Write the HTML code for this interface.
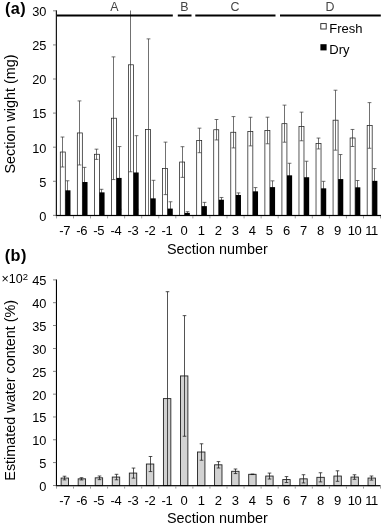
<!DOCTYPE html>
<html><head><meta charset="utf-8"><title>Figure</title>
<style>html,body{margin:0;padding:0;background:#fff;}svg{display:block;}text{font-family:'Liberation Sans', Arial, Helvetica, sans-serif;fill:#000;}</style></head><body>
<svg width="383" height="526" viewBox="0 0 383 526">
<rect width="383" height="526" fill="#fff"/>
<rect x="60.28" y="152.02" width="5.00" height="63.38" fill="#fff" stroke="#222" stroke-width="0.75"/>
<path d="M67.50 180.78V199.86M65.60 180.78H69.40M65.60 199.86H69.40" stroke="#333" stroke-width="0.70" fill="none"/>
<rect x="65.33" y="190.32" width="5.15" height="25.08" fill="#000"/>
<path d="M62.50 137.03V167.01M60.60 137.03H64.40M60.60 167.01H64.40" stroke="#333" stroke-width="0.70" fill="none"/>
<rect x="77.33" y="132.94" width="5.00" height="82.46" fill="#fff" stroke="#222" stroke-width="0.75"/>
<path d="M84.50 167.35V196.66M82.60 167.35H86.40M82.60 196.66H86.40" stroke="#333" stroke-width="0.70" fill="none"/>
<rect x="82.38" y="182.01" width="5.15" height="33.39" fill="#000"/>
<path d="M79.50 100.91V164.97M77.60 100.91H81.40M77.60 164.97H81.40" stroke="#333" stroke-width="0.70" fill="none"/>
<rect x="94.38" y="154.27" width="5.00" height="61.13" fill="#fff" stroke="#222" stroke-width="0.75"/>
<path d="M101.50 189.30V195.43M99.60 189.30H103.40M99.60 195.43H103.40" stroke="#333" stroke-width="0.70" fill="none"/>
<rect x="99.42" y="192.37" width="5.15" height="23.03" fill="#000"/>
<path d="M96.50 149.16V159.38M94.60 149.16H98.40M94.60 159.38H98.40" stroke="#333" stroke-width="0.70" fill="none"/>
<rect x="111.43" y="118.22" width="5.00" height="97.18" fill="#fff" stroke="#222" stroke-width="0.75"/>
<path d="M119.50 146.57V209.27M117.60 146.57H121.40M117.60 209.27H121.40" stroke="#333" stroke-width="0.70" fill="none"/>
<rect x="116.48" y="177.92" width="5.15" height="37.48" fill="#000"/>
<path d="M113.50 56.88V179.55M111.60 56.88H115.40M111.60 179.55H115.40" stroke="#333" stroke-width="0.70" fill="none"/>
<rect x="128.47" y="64.79" width="5.00" height="150.61" fill="#fff" stroke="#222" stroke-width="0.75"/>
<path d="M136.50 135.66V209.27M134.60 135.66H138.40M134.60 209.27H138.40" stroke="#333" stroke-width="0.70" fill="none"/>
<rect x="133.53" y="172.47" width="5.15" height="42.93" fill="#000"/>
<path d="M130.50 10.50V171.78M128.60 171.78H132.40" stroke="#333" stroke-width="0.70" fill="none"/>
<rect x="145.53" y="129.53" width="5.00" height="85.87" fill="#fff" stroke="#222" stroke-width="0.75"/>
<path d="M153.50 180.30V215.40M151.60 180.30H155.40" stroke="#333" stroke-width="0.70" fill="none"/>
<rect x="150.58" y="198.36" width="5.15" height="17.04" fill="#000"/>
<path d="M148.50 38.89V215.40M146.60 38.89H150.40" stroke="#333" stroke-width="0.70" fill="none"/>
<rect x="162.58" y="168.38" width="5.00" height="47.02" fill="#fff" stroke="#222" stroke-width="0.75"/>
<path d="M170.50 201.77V215.40M168.60 201.77H172.40M168.60 215.40H172.40" stroke="#333" stroke-width="0.70" fill="none"/>
<rect x="167.63" y="208.59" width="5.15" height="6.82" fill="#000"/>
<path d="M165.50 142.14V194.61M163.60 142.14H167.40M163.60 194.61H167.40" stroke="#333" stroke-width="0.70" fill="none"/>
<rect x="179.63" y="162.04" width="5.00" height="53.36" fill="#fff" stroke="#222" stroke-width="0.75"/>
<path d="M187.50 211.65V214.11M185.60 211.65H189.40M185.60 214.11H189.40" stroke="#333" stroke-width="0.70" fill="none"/>
<rect x="184.68" y="212.88" width="5.15" height="2.52" fill="#000"/>
<path d="M182.50 146.70V177.37M180.60 146.70H184.40M180.60 177.37H184.40" stroke="#333" stroke-width="0.70" fill="none"/>
<rect x="196.68" y="140.44" width="5.00" height="74.97" fill="#fff" stroke="#222" stroke-width="0.75"/>
<path d="M204.50 202.38V209.88M202.60 202.38H206.40M202.60 209.88H206.40" stroke="#333" stroke-width="0.70" fill="none"/>
<rect x="201.73" y="206.13" width="5.15" height="9.27" fill="#000"/>
<path d="M199.50 128.17V152.70M197.60 128.17H201.40M197.60 152.70H201.40" stroke="#333" stroke-width="0.70" fill="none"/>
<rect x="213.73" y="129.74" width="5.00" height="85.66" fill="#fff" stroke="#222" stroke-width="0.75"/>
<path d="M221.50 197.48V201.97M219.60 197.48H223.40M219.60 201.97H223.40" stroke="#333" stroke-width="0.70" fill="none"/>
<rect x="218.78" y="199.73" width="5.15" height="15.67" fill="#000"/>
<path d="M216.50 119.51V139.96M214.60 119.51H218.40M214.60 139.96H218.40" stroke="#333" stroke-width="0.70" fill="none"/>
<rect x="230.78" y="132.26" width="5.00" height="83.14" fill="#fff" stroke="#222" stroke-width="0.75"/>
<path d="M238.50 192.91V197.00M236.60 192.91H240.40M236.60 197.00H240.40" stroke="#333" stroke-width="0.70" fill="none"/>
<rect x="235.83" y="194.96" width="5.15" height="20.45" fill="#000"/>
<path d="M233.50 116.58V147.93M231.60 116.58H235.40M231.60 147.93H235.40" stroke="#333" stroke-width="0.70" fill="none"/>
<rect x="247.83" y="131.58" width="5.00" height="83.82" fill="#fff" stroke="#222" stroke-width="0.75"/>
<path d="M255.50 187.59V195.09M253.60 187.59H257.40M253.60 195.09H257.40" stroke="#333" stroke-width="0.70" fill="none"/>
<rect x="252.88" y="191.34" width="5.15" height="24.06" fill="#000"/>
<path d="M250.50 117.26V145.89M248.60 117.26H252.40M248.60 145.89H252.40" stroke="#333" stroke-width="0.70" fill="none"/>
<rect x="264.88" y="130.49" width="5.00" height="84.91" fill="#fff" stroke="#222" stroke-width="0.75"/>
<path d="M272.50 180.85V193.39M270.60 180.85H274.40M270.60 193.39H274.40" stroke="#333" stroke-width="0.70" fill="none"/>
<rect x="269.93" y="187.12" width="5.15" height="28.28" fill="#000"/>
<path d="M267.50 117.20V143.77M265.60 117.20H269.40M265.60 143.77H269.40" stroke="#333" stroke-width="0.70" fill="none"/>
<rect x="281.92" y="123.67" width="5.00" height="91.73" fill="#fff" stroke="#222" stroke-width="0.75"/>
<path d="M289.50 163.27V187.39M287.60 163.27H291.40M287.60 187.39H291.40" stroke="#333" stroke-width="0.70" fill="none"/>
<rect x="286.97" y="175.33" width="5.15" height="40.07" fill="#000"/>
<path d="M284.50 105.13V142.21M282.60 105.13H286.40M282.60 142.21H286.40" stroke="#333" stroke-width="0.70" fill="none"/>
<rect x="298.98" y="126.46" width="5.00" height="88.94" fill="#fff" stroke="#222" stroke-width="0.75"/>
<path d="M306.50 161.22V193.25M304.60 161.22H308.40M304.60 193.25H308.40" stroke="#333" stroke-width="0.70" fill="none"/>
<rect x="304.03" y="177.24" width="5.15" height="38.16" fill="#000"/>
<path d="M301.50 112.15V140.78M299.60 112.15H303.40M299.60 140.78H303.40" stroke="#333" stroke-width="0.70" fill="none"/>
<rect x="316.02" y="143.50" width="5.00" height="71.90" fill="#fff" stroke="#222" stroke-width="0.75"/>
<path d="M323.50 181.32V195.36M321.60 181.32H325.40M321.60 195.36H325.40" stroke="#333" stroke-width="0.70" fill="none"/>
<rect x="321.07" y="188.34" width="5.15" height="27.06" fill="#000"/>
<path d="M318.50 138.05V148.95M316.60 138.05H320.40M316.60 148.95H320.40" stroke="#333" stroke-width="0.70" fill="none"/>
<rect x="333.07" y="120.19" width="5.00" height="95.21" fill="#fff" stroke="#222" stroke-width="0.75"/>
<path d="M340.50 154.54V203.61M338.60 154.54H342.40M338.60 203.61H342.40" stroke="#333" stroke-width="0.70" fill="none"/>
<rect x="338.12" y="179.08" width="5.15" height="36.32" fill="#000"/>
<path d="M335.50 90.21V150.18M333.60 90.21H337.40M333.60 150.18H337.40" stroke="#333" stroke-width="0.70" fill="none"/>
<rect x="350.12" y="137.98" width="5.00" height="77.42" fill="#fff" stroke="#222" stroke-width="0.75"/>
<path d="M357.50 180.51V194.14M355.60 180.51H359.40M355.60 194.14H359.40" stroke="#333" stroke-width="0.70" fill="none"/>
<rect x="355.18" y="187.32" width="5.15" height="28.08" fill="#000"/>
<path d="M352.50 129.46V146.50M350.60 129.46H354.40M350.60 146.50H354.40" stroke="#333" stroke-width="0.70" fill="none"/>
<rect x="367.18" y="125.44" width="5.00" height="89.96" fill="#fff" stroke="#222" stroke-width="0.75"/>
<path d="M374.50 168.58V193.11M372.60 168.58H376.40M372.60 193.11H376.40" stroke="#333" stroke-width="0.70" fill="none"/>
<rect x="372.23" y="180.85" width="5.15" height="34.55" fill="#000"/>
<path d="M369.50 102.61V148.27M367.60 102.61H371.40M367.60 148.27H371.40" stroke="#333" stroke-width="0.70" fill="none"/>
<rect x="55.8" y="10.3" width="1.1" height="205.8" fill="#000"/>
<rect x="55.8" y="214.9" width="325.2" height="1.2" fill="#000"/>
<rect x="53" y="214.90" width="3.2" height="0.8" fill="#666"/>
<text x="46.4" y="220.70" font-size="12.8" text-anchor="end">0</text>
<rect x="53" y="180.82" width="3.2" height="0.8" fill="#666"/>
<text x="46.4" y="186.62" font-size="12.8" text-anchor="end">5</text>
<rect x="53" y="146.75" width="3.2" height="0.8" fill="#666"/>
<text x="46.4" y="152.55" font-size="12.8" text-anchor="end">10</text>
<rect x="53" y="112.67" width="3.2" height="0.8" fill="#666"/>
<text x="46.4" y="118.47" font-size="12.8" text-anchor="end">15</text>
<rect x="53" y="78.60" width="3.2" height="0.8" fill="#666"/>
<text x="46.4" y="84.40" font-size="12.8" text-anchor="end">20</text>
<rect x="53" y="44.53" width="3.2" height="0.8" fill="#666"/>
<text x="46.4" y="50.33" font-size="12.8" text-anchor="end">25</text>
<rect x="53" y="10.45" width="3.2" height="0.8" fill="#666"/>
<text x="46.4" y="16.25" font-size="12.8" text-anchor="end">30</text>
<rect x="56.10" y="216" width="0.8" height="2.4" fill="#888"/>
<rect x="73.15" y="216" width="0.8" height="2.4" fill="#888"/>
<rect x="90.20" y="216" width="0.8" height="2.4" fill="#888"/>
<rect x="107.25" y="216" width="0.8" height="2.4" fill="#888"/>
<rect x="124.30" y="216" width="0.8" height="2.4" fill="#888"/>
<rect x="141.35" y="216" width="0.8" height="2.4" fill="#888"/>
<rect x="158.40" y="216" width="0.8" height="2.4" fill="#888"/>
<rect x="175.45" y="216" width="0.8" height="2.4" fill="#888"/>
<rect x="192.50" y="216" width="0.8" height="2.4" fill="#888"/>
<rect x="209.55" y="216" width="0.8" height="2.4" fill="#888"/>
<rect x="226.60" y="216" width="0.8" height="2.4" fill="#888"/>
<rect x="243.65" y="216" width="0.8" height="2.4" fill="#888"/>
<rect x="260.70" y="216" width="0.8" height="2.4" fill="#888"/>
<rect x="277.75" y="216" width="0.8" height="2.4" fill="#888"/>
<rect x="294.80" y="216" width="0.8" height="2.4" fill="#888"/>
<rect x="311.85" y="216" width="0.8" height="2.4" fill="#888"/>
<rect x="328.90" y="216" width="0.8" height="2.4" fill="#888"/>
<rect x="345.95" y="216" width="0.8" height="2.4" fill="#888"/>
<rect x="363.00" y="216" width="0.8" height="2.4" fill="#888"/>
<rect x="380.05" y="216" width="0.8" height="2.4" fill="#888"/>
<text x="64.73" y="235.3" font-size="13" text-anchor="middle" letter-spacing="-0.3">-7</text>
<text x="81.78" y="235.3" font-size="13" text-anchor="middle" letter-spacing="-0.3">-6</text>
<text x="98.83" y="235.3" font-size="13" text-anchor="middle" letter-spacing="-0.3">-5</text>
<text x="115.88" y="235.3" font-size="13" text-anchor="middle" letter-spacing="-0.3">-4</text>
<text x="132.92" y="235.3" font-size="13" text-anchor="middle" letter-spacing="-0.3">-3</text>
<text x="149.97" y="235.3" font-size="13" text-anchor="middle" letter-spacing="-0.3">-2</text>
<text x="167.03" y="235.3" font-size="13" text-anchor="middle" letter-spacing="-0.3">-1</text>
<text x="184.08" y="235.3" font-size="13" text-anchor="middle" letter-spacing="-0.3">0</text>
<text x="201.12" y="235.3" font-size="13" text-anchor="middle" letter-spacing="-0.3">1</text>
<text x="218.18" y="235.3" font-size="13" text-anchor="middle" letter-spacing="-0.3">2</text>
<text x="235.22" y="235.3" font-size="13" text-anchor="middle" letter-spacing="-0.3">3</text>
<text x="252.28" y="235.3" font-size="13" text-anchor="middle" letter-spacing="-0.3">4</text>
<text x="269.32" y="235.3" font-size="13" text-anchor="middle" letter-spacing="-0.3">5</text>
<text x="286.37" y="235.3" font-size="13" text-anchor="middle" letter-spacing="-0.3">6</text>
<text x="303.43" y="235.3" font-size="13" text-anchor="middle" letter-spacing="-0.3">7</text>
<text x="320.47" y="235.3" font-size="13" text-anchor="middle" letter-spacing="-0.3">8</text>
<text x="337.52" y="235.3" font-size="13" text-anchor="middle" letter-spacing="-0.3">9</text>
<text x="354.57" y="235.3" font-size="13" text-anchor="middle" letter-spacing="-0.3">10</text>
<text x="371.62" y="235.3" font-size="13" text-anchor="middle" letter-spacing="-0.3">11</text>
<rect x="57.00" y="14.5" width="115.80" height="2" fill="#000"/>
<text x="114.50" y="11.2" font-size="12.4" text-anchor="middle" style="fill:#444">A</text>
<rect x="177.80" y="14.5" width="13.70" height="2" fill="#000"/>
<text x="184.30" y="11.2" font-size="12.4" text-anchor="middle" style="fill:#444">B</text>
<rect x="195.30" y="14.5" width="80.20" height="2" fill="#000"/>
<text x="235.00" y="11.2" font-size="12.4" text-anchor="middle" style="fill:#444">C</text>
<rect x="280.00" y="14.5" width="100.80" height="2" fill="#000"/>
<text x="330.00" y="11.2" font-size="12.4" text-anchor="middle" style="fill:#444">D</text>
<rect x="320.8" y="23.6" width="5.4" height="5.4" fill="#fff" stroke="#222" stroke-width="0.9"/>
<text x="329.3" y="32.7" font-size="13">Fresh</text>
<rect x="320.4" y="44.2" width="6.2" height="6.2" fill="#000"/>
<text x="329.3" y="53.7" font-size="13">Dry</text>
<text x="5.0" y="13.9" font-size="16.3" font-weight="bold" letter-spacing="0.4">(a)</text>
<text transform="translate(15.3,114) rotate(-90)" font-size="14.4" text-anchor="middle">Section wight (mg)</text>
<text x="166.9" y="254.3" font-size="14.4">Section number</text>
<rect x="61.12" y="478.06" width="7.40" height="7.54" fill="#d2d2d2" stroke="#222" stroke-width="0.9"/>
<path d="M64.50 476.23V479.89M62.70 476.23H66.30M62.70 479.89H66.30" stroke="#1a1a1a" stroke-width="0.75" fill="none"/>
<rect x="78.17" y="478.84" width="7.40" height="6.76" fill="#d2d2d2" stroke="#222" stroke-width="0.9"/>
<path d="M81.50 477.70V479.98M79.70 477.70H83.30M79.70 479.98H83.30" stroke="#1a1a1a" stroke-width="0.75" fill="none"/>
<rect x="95.22" y="477.83" width="7.40" height="7.77" fill="#d2d2d2" stroke="#222" stroke-width="0.9"/>
<path d="M99.50 476.01V479.66M97.70 476.01H101.30M97.70 479.66H101.30" stroke="#1a1a1a" stroke-width="0.75" fill="none"/>
<rect x="112.28" y="477.06" width="7.40" height="8.54" fill="#d2d2d2" stroke="#222" stroke-width="0.9"/>
<path d="M116.50 474.31V479.80M114.70 474.31H118.30M114.70 479.80H118.30" stroke="#1a1a1a" stroke-width="0.75" fill="none"/>
<rect x="129.33" y="473.08" width="7.40" height="12.52" fill="#d2d2d2" stroke="#222" stroke-width="0.9"/>
<path d="M133.50 468.06V478.11M131.70 468.06H135.30M131.70 478.11H135.30" stroke="#1a1a1a" stroke-width="0.75" fill="none"/>
<rect x="146.38" y="464.03" width="7.40" height="21.57" fill="#d2d2d2" stroke="#222" stroke-width="0.9"/>
<path d="M150.50 456.50V471.57M148.70 456.50H152.30M148.70 471.57H152.30" stroke="#1a1a1a" stroke-width="0.75" fill="none"/>
<rect x="163.43" y="398.61" width="7.40" height="86.99" fill="#d2d2d2" stroke="#222" stroke-width="0.9"/>
<path d="M167.50 291.69V485.60M165.70 291.69H169.30" stroke="#1a1a1a" stroke-width="0.75" fill="none"/>
<rect x="180.48" y="375.94" width="7.40" height="109.66" fill="#d2d2d2" stroke="#222" stroke-width="0.9"/>
<path d="M184.50 315.63V436.25M182.70 315.63H186.30M182.70 436.25H186.30" stroke="#1a1a1a" stroke-width="0.75" fill="none"/>
<rect x="197.53" y="452.02" width="7.40" height="33.58" fill="#d2d2d2" stroke="#222" stroke-width="0.9"/>
<path d="M201.50 443.79V460.24M199.70 443.79H203.30M199.70 460.24H203.30" stroke="#1a1a1a" stroke-width="0.75" fill="none"/>
<rect x="214.58" y="464.81" width="7.40" height="20.79" fill="#d2d2d2" stroke="#222" stroke-width="0.9"/>
<path d="M218.50 461.61V468.01M216.70 461.61H220.30M216.70 468.01H220.30" stroke="#1a1a1a" stroke-width="0.75" fill="none"/>
<rect x="231.63" y="471.30" width="7.40" height="14.30" fill="#d2d2d2" stroke="#222" stroke-width="0.9"/>
<path d="M235.50 469.01V473.58M233.70 469.01H237.30M233.70 473.58H237.30" stroke="#1a1a1a" stroke-width="0.75" fill="none"/>
<rect x="248.68" y="474.31" width="7.40" height="11.29" fill="#d2d2d2" stroke="#222" stroke-width="0.9"/>
<path d="M252.50 474.09V474.54M250.70 474.09H254.30M250.70 474.54H254.30" stroke="#1a1a1a" stroke-width="0.75" fill="none"/>
<rect x="265.73" y="476.05" width="7.40" height="9.55" fill="#d2d2d2" stroke="#222" stroke-width="0.9"/>
<path d="M269.50 473.08V479.02M267.70 473.08H271.30M267.70 479.02H271.30" stroke="#1a1a1a" stroke-width="0.75" fill="none"/>
<rect x="282.77" y="479.57" width="7.40" height="6.03" fill="#d2d2d2" stroke="#222" stroke-width="0.9"/>
<path d="M286.50 476.60V482.54M284.70 476.60H288.30M284.70 482.54H288.30" stroke="#1a1a1a" stroke-width="0.75" fill="none"/>
<rect x="299.83" y="478.84" width="7.40" height="6.76" fill="#d2d2d2" stroke="#222" stroke-width="0.9"/>
<path d="M303.50 474.73V482.95M301.70 474.73H305.30M301.70 482.95H305.30" stroke="#1a1a1a" stroke-width="0.75" fill="none"/>
<rect x="316.88" y="477.33" width="7.40" height="8.27" fill="#d2d2d2" stroke="#222" stroke-width="0.9"/>
<path d="M320.50 472.76V481.90M318.70 472.76H322.30M318.70 481.90H322.30" stroke="#1a1a1a" stroke-width="0.75" fill="none"/>
<rect x="333.93" y="476.05" width="7.40" height="9.55" fill="#d2d2d2" stroke="#222" stroke-width="0.9"/>
<path d="M337.50 470.80V481.31M335.70 470.80H339.30M335.70 481.31H339.30" stroke="#1a1a1a" stroke-width="0.75" fill="none"/>
<rect x="350.98" y="477.06" width="7.40" height="8.54" fill="#d2d2d2" stroke="#222" stroke-width="0.9"/>
<path d="M354.50 474.77V479.34M352.70 474.77H356.30M352.70 479.34H356.30" stroke="#1a1a1a" stroke-width="0.75" fill="none"/>
<rect x="368.03" y="478.06" width="7.40" height="7.54" fill="#d2d2d2" stroke="#222" stroke-width="0.9"/>
<path d="M371.50 476.01V480.12M369.70 476.01H373.30M369.70 480.12H373.30" stroke="#1a1a1a" stroke-width="0.75" fill="none"/>
<rect x="55.9" y="279.5" width="1.1" height="206.8" fill="#000"/>
<rect x="55.9" y="485.1" width="324.6" height="1.2" fill="#000"/>
<rect x="53" y="485.10" width="3.2" height="0.8" fill="#666"/>
<text x="46.4" y="490.90" font-size="12.8" text-anchor="end">0</text>
<rect x="53" y="462.25" width="3.2" height="0.8" fill="#666"/>
<text x="46.4" y="468.06" font-size="12.8" text-anchor="end">5</text>
<rect x="53" y="439.41" width="3.2" height="0.8" fill="#666"/>
<text x="46.4" y="445.21" font-size="12.8" text-anchor="end">10</text>
<rect x="53" y="416.57" width="3.2" height="0.8" fill="#666"/>
<text x="46.4" y="422.37" font-size="12.8" text-anchor="end">15</text>
<rect x="53" y="393.72" width="3.2" height="0.8" fill="#666"/>
<text x="46.4" y="399.52" font-size="12.8" text-anchor="end">20</text>
<rect x="53" y="370.88" width="3.2" height="0.8" fill="#666"/>
<text x="46.4" y="376.68" font-size="12.8" text-anchor="end">25</text>
<rect x="53" y="348.03" width="3.2" height="0.8" fill="#666"/>
<text x="46.4" y="353.83" font-size="12.8" text-anchor="end">30</text>
<rect x="53" y="325.19" width="3.2" height="0.8" fill="#666"/>
<text x="46.4" y="330.99" font-size="12.8" text-anchor="end">35</text>
<rect x="53" y="302.34" width="3.2" height="0.8" fill="#666"/>
<text x="46.4" y="308.14" font-size="12.8" text-anchor="end">40</text>
<rect x="53" y="279.50" width="3.2" height="0.8" fill="#666"/>
<text x="46.4" y="285.30" font-size="12.8" text-anchor="end">45</text>
<rect x="56.10" y="486.2" width="0.8" height="2.4" fill="#888"/>
<rect x="73.15" y="486.2" width="0.8" height="2.4" fill="#888"/>
<rect x="90.20" y="486.2" width="0.8" height="2.4" fill="#888"/>
<rect x="107.25" y="486.2" width="0.8" height="2.4" fill="#888"/>
<rect x="124.30" y="486.2" width="0.8" height="2.4" fill="#888"/>
<rect x="141.35" y="486.2" width="0.8" height="2.4" fill="#888"/>
<rect x="158.40" y="486.2" width="0.8" height="2.4" fill="#888"/>
<rect x="175.45" y="486.2" width="0.8" height="2.4" fill="#888"/>
<rect x="192.50" y="486.2" width="0.8" height="2.4" fill="#888"/>
<rect x="209.55" y="486.2" width="0.8" height="2.4" fill="#888"/>
<rect x="226.60" y="486.2" width="0.8" height="2.4" fill="#888"/>
<rect x="243.65" y="486.2" width="0.8" height="2.4" fill="#888"/>
<rect x="260.70" y="486.2" width="0.8" height="2.4" fill="#888"/>
<rect x="277.75" y="486.2" width="0.8" height="2.4" fill="#888"/>
<rect x="294.80" y="486.2" width="0.8" height="2.4" fill="#888"/>
<rect x="311.85" y="486.2" width="0.8" height="2.4" fill="#888"/>
<rect x="328.90" y="486.2" width="0.8" height="2.4" fill="#888"/>
<rect x="345.95" y="486.2" width="0.8" height="2.4" fill="#888"/>
<rect x="363.00" y="486.2" width="0.8" height="2.4" fill="#888"/>
<rect x="380.05" y="486.2" width="0.8" height="2.4" fill="#888"/>
<text x="64.73" y="505.3" font-size="13" text-anchor="middle" letter-spacing="-0.3">-7</text>
<text x="81.78" y="505.3" font-size="13" text-anchor="middle" letter-spacing="-0.3">-6</text>
<text x="98.83" y="505.3" font-size="13" text-anchor="middle" letter-spacing="-0.3">-5</text>
<text x="115.88" y="505.3" font-size="13" text-anchor="middle" letter-spacing="-0.3">-4</text>
<text x="132.92" y="505.3" font-size="13" text-anchor="middle" letter-spacing="-0.3">-3</text>
<text x="149.97" y="505.3" font-size="13" text-anchor="middle" letter-spacing="-0.3">-2</text>
<text x="167.03" y="505.3" font-size="13" text-anchor="middle" letter-spacing="-0.3">-1</text>
<text x="184.08" y="505.3" font-size="13" text-anchor="middle" letter-spacing="-0.3">0</text>
<text x="201.12" y="505.3" font-size="13" text-anchor="middle" letter-spacing="-0.3">1</text>
<text x="218.18" y="505.3" font-size="13" text-anchor="middle" letter-spacing="-0.3">2</text>
<text x="235.22" y="505.3" font-size="13" text-anchor="middle" letter-spacing="-0.3">3</text>
<text x="252.28" y="505.3" font-size="13" text-anchor="middle" letter-spacing="-0.3">4</text>
<text x="269.32" y="505.3" font-size="13" text-anchor="middle" letter-spacing="-0.3">5</text>
<text x="286.37" y="505.3" font-size="13" text-anchor="middle" letter-spacing="-0.3">6</text>
<text x="303.43" y="505.3" font-size="13" text-anchor="middle" letter-spacing="-0.3">7</text>
<text x="320.47" y="505.3" font-size="13" text-anchor="middle" letter-spacing="-0.3">8</text>
<text x="337.52" y="505.3" font-size="13" text-anchor="middle" letter-spacing="-0.3">9</text>
<text x="354.57" y="505.3" font-size="13" text-anchor="middle" letter-spacing="-0.3">10</text>
<text x="371.62" y="505.3" font-size="13" text-anchor="middle" letter-spacing="-0.3">11</text>
<text x="4.8" y="261.1" font-size="16.3" font-weight="bold" letter-spacing="0.4">(b)</text>
<text x="1.5" y="283.3" font-size="12.5">×10<tspan dy="-3.2" font-size="9.5">2</tspan></text>
<text transform="translate(15.3,390.3) rotate(-90)" font-size="14.4" text-anchor="middle">Estimated water content (%)</text>
<text x="166.9" y="523.3" font-size="14.4">Section number</text>
</svg></body></html>
